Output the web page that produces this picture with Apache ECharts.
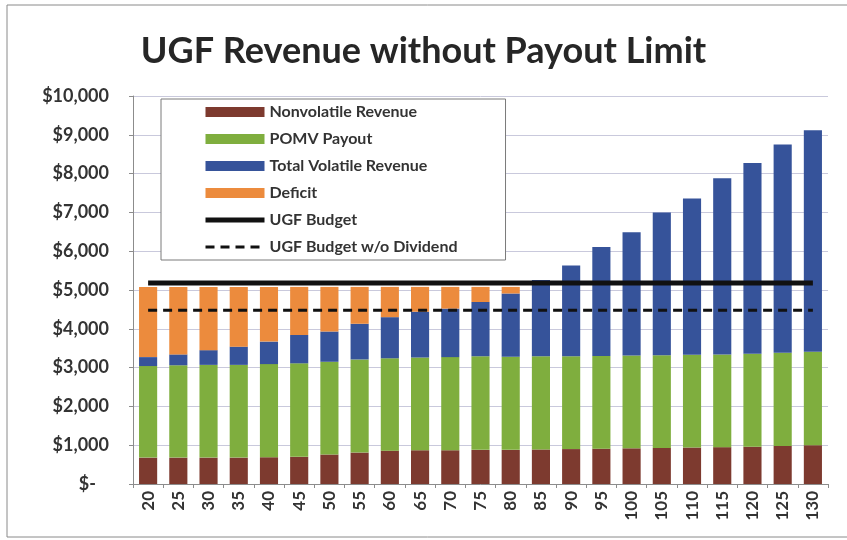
<!DOCTYPE html>
<html>
<head>
<meta charset="utf-8">
<script src="https://cdn.jsdelivr.net/npm/echarts@6/dist/echarts.min.js"></script>
<style>
  html, body { margin: 0; padding: 0; background: #fff; }
  #chart { width: 847px; height: 540px; }
</style>
</head>
<body>
<div id="chart"></div>
<script>
// categories on the x axis
var categories = ['20', '25', '30', '35', '40', '45', '50', '55', '60', '65', '70', '75',
  '80', '85', '90', '95', '100', '105', '110', '115', '120', '125', '130'];

// stacked pieces, $ millions
var nonvolatile = [680, 680, 680, 680, 690, 700, 760, 810, 860, 870, 870, 880,
  880, 890, 900, 910, 920, 930, 940, 950, 960, 980, 1000];
var pomvPayout = [2360, 2380, 2390, 2390, 2400, 2410, 2390, 2400, 2380, 2390, 2400, 2410,
  2400, 2400, 2390, 2390, 2390, 2390, 2390, 2390, 2400, 2400, 2410];
var volatileRev = [230, 280, 380, 470, 580, 730, 780, 920, 1060, 1180, 1250, 1400,
  1630, 1970, 2340, 2810, 3180, 3680, 4030, 4540, 4910, 5370, 5710];
var deficit = [1810, 1740, 1630, 1540, 1410, 1240, 1150, 950, 780, 640, 560, 390,
  170, 0, 0, 0, 0, 0, 0, 0, 0, 0, 0];

// budget lines
var ugfBudget = [5180, 5180, 5180, 5180, 5180, 5180, 5180, 5180, 5180, 5180, 5180, 5180,
  5180, 5180, 5180, 5180, 5180, 5180, 5180, 5180, 5180, 5180, 5180];
var ugfBudgetNoDiv = [4480, 4480, 4480, 4480, 4480, 4480, 4480, 4480, 4480, 4480, 4480, 4480,
  4480, 4480, 4480, 4480, 4480, 4480, 4480, 4480, 4480, 4480, 4480];

var FONT = 'Lato';

var chart = echarts.init(document.getElementById('chart'));

function barSeries(name, data, color) {
  return {
    name: name,
    type: 'bar',
    stack: 'rev',
    data: data,
    barCategoryGap: '40%',
    itemStyle: { color: color }
  };
}

chart.setOption({
  animation: false,
  title: {
    text: 'UGF Revenue without Payout Limit',
    left: 'center',
    top: 28,
    textStyle: { fontFamily: FONT, fontSize: 36, fontWeight: 'bold', color: '#262626' }
  },
  graphic: [{
    type: 'rect',
    shape: { x: 7, y: 5, width: 900, height: 532 },
    style: { fill: 'none', stroke: '#8a8a8a', lineWidth: 1 },
    z: -1
  }],
  legend: {
    orient: 'vertical',
    left: 161,
    top: 99,
    padding: [5, 48, 5, 42],
    itemWidth: 59,
    itemHeight: 10,
    itemGap: 11,
    backgroundColor: '#fff',
    borderColor: '#7a7a7a',
    borderWidth: 1,
    textStyle: { fontFamily: FONT, fontSize: 16, fontWeight: 'bold', color: '#333', lineHeight: 16 },
    data: [
      { name: 'Nonvolatile Revenue', icon: 'rect' },
      { name: 'POMV Payout', icon: 'rect' },
      { name: 'Total Volatile Revenue', icon: 'rect' },
      { name: 'Deficit', icon: 'rect' },
      { name: 'UGF Budget', itemStyle: { opacity: 0 }, lineStyle: { width: 5 } },
      { name: 'UGF Budget w/o Dividend', itemStyle: { opacity: 0 }, lineStyle: { width: 3, type: [9, 6] } }
    ]
  },
  grid: { left: 133, right: 19, top: 96, bottom: 56 },
  xAxis: {
    type: 'category',
    data: categories,
    axisLine: { lineStyle: { color: '#8c8c8c' } },
    axisTick: { show: true, length: 4, lineStyle: { color: '#8c8c8c' } },
    axisLabel: {
      rotate: 90,
      margin: 7,
      fontFamily: FONT,
      fontSize: 17,
      fontWeight: 'bold',
      color: '#333'
    }
  },
  yAxis: {
    type: 'value',
    min: 0,
    max: 10000,
    interval: 1000,
    axisLine: { show: true, lineStyle: { color: '#8c8c8c' } },
    axisTick: { show: true, length: 4, lineStyle: { color: '#8c8c8c' } },
    splitLine: { lineStyle: { color: '#c9c9dc' } },
    axisLabel: {
      margin: 24,
      fontFamily: FONT,
      fontSize: 18,
      fontWeight: 'bold',
      color: '#333',
      formatter: function (v) {
        if (v === 0) return '{z|$-}';
        return '$' + v.toLocaleString('en-US');
      },
      rich: {
        z: { fontFamily: FONT, fontSize: 18, fontWeight: 'bold', color: '#333', padding: [0, 13, 0, 0] }
      }
    }
  },
  series: [
    barSeries('Nonvolatile Revenue', nonvolatile, '#7d3a2f'),
    barSeries('POMV Payout', pomvPayout, '#7fae3e'),
    barSeries('Total Volatile Revenue', volatileRev, '#36539a'),
    barSeries('Deficit', deficit, '#ec8b3d'),
    {
      name: 'UGF Budget',
      type: 'line',
      data: ugfBudget,
      symbol: 'none',
      lineStyle: { color: '#111', width: 5 },
      itemStyle: { color: '#111' },
      z: 5
    },
    {
      name: 'UGF Budget w/o Dividend',
      type: 'line',
      data: ugfBudgetNoDiv,
      symbol: 'none',
      lineStyle: { color: '#111', width: 3, type: [9, 6] },
      itemStyle: { color: '#111' },
      z: 5
    }
  ]
});
</script>
</body>
</html>
